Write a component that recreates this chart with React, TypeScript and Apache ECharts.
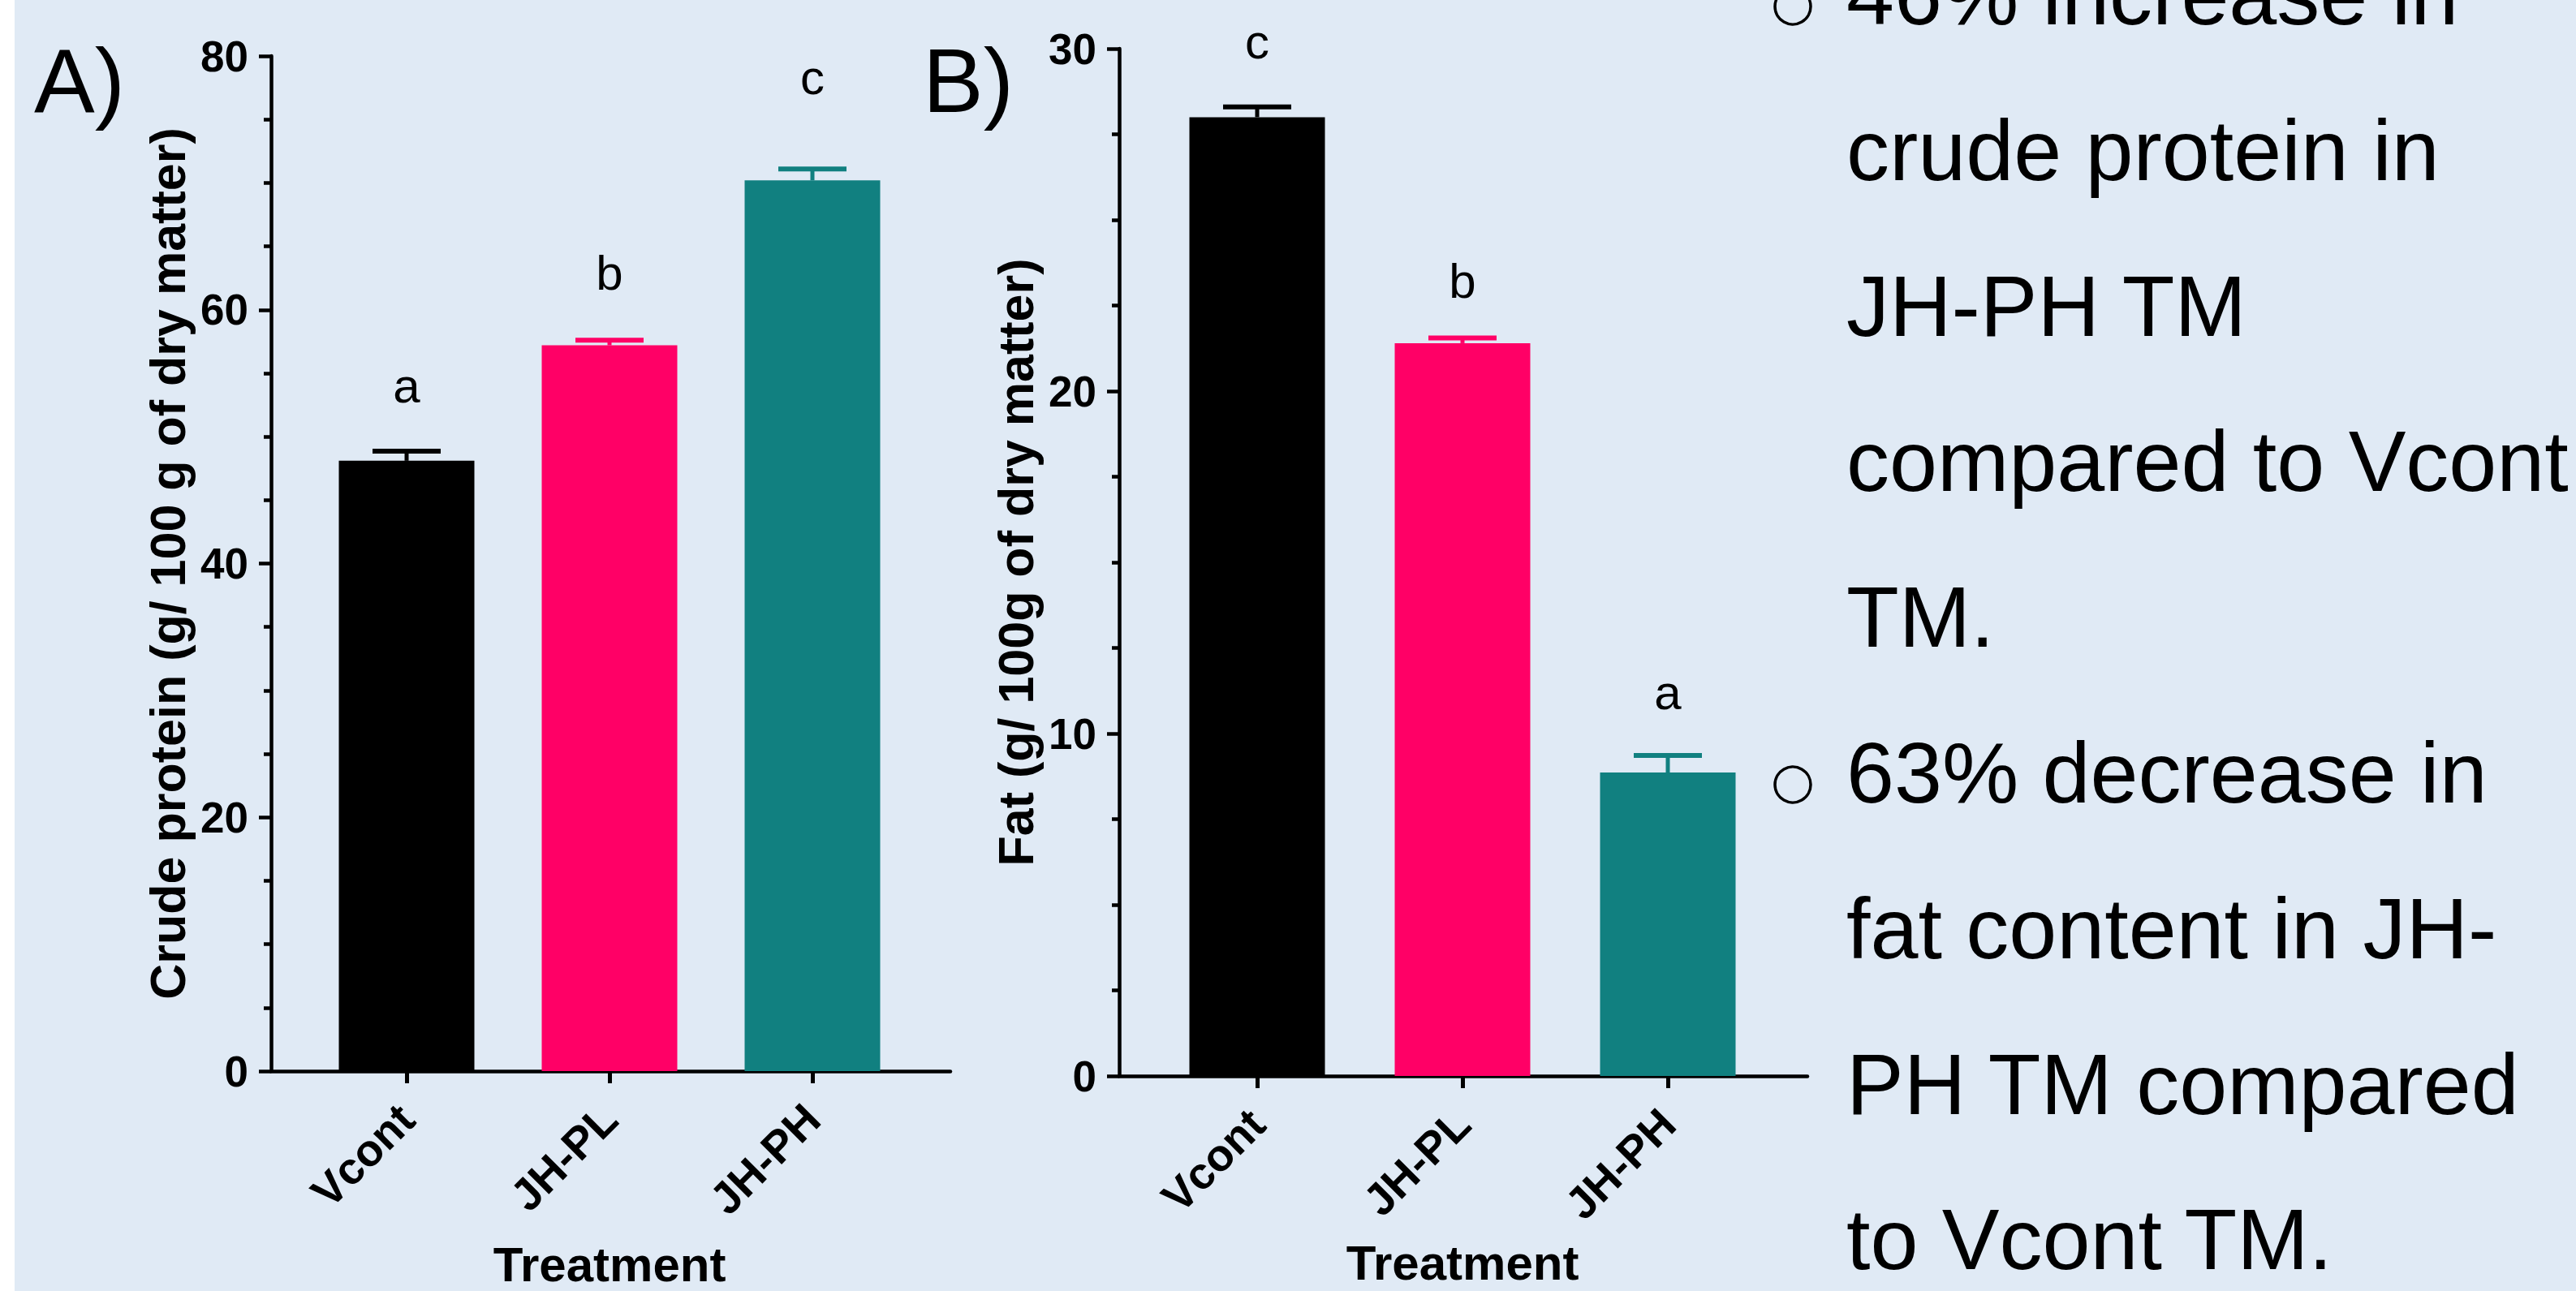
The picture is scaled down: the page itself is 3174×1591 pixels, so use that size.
import React, { useEffect, useRef } from 'react';
import * as echarts from 'echarts';

const categories = ['Vcont', 'JH-PL', 'JH-PH'];
const barColors = ['#000000', '#FF0066', '#118080'];

const proteinMeans = [48.1, 57.2, 70.2];
const proteinErrors = [0.75, 0.4, 0.9];
const proteinLetters = ['a', 'b', 'c'];
const proteinLetterY = [54.0, 62.9, 78.3];
const proteinAxis = { min: 0, max: 80, interval: 20 };

const fatMeans = [28.0, 21.4, 8.86];
const fatErrors = [0.3, 0.15, 0.5];
const fatLetters = ['c', 'b', 'a'];
const fatLetterY = [30.2, 23.2, 11.2];
const fatAxis = { min: 0, max: 30, interval: 10 };

const noteLines = [
  '46% increase in',
  'crude protein in',
  'JH-PH TM',
  'compared to Vcont',
  'TM.',
  '63% decrease in',
  'fat content in JH-',
  'PH TM compared',
  'to Vcont TM.',
];
const bulletLineIndexes = [0, 5];

const FONT = '"Liberation Sans", Arial, Helvetica, sans-serif';

function catAxis(gridIndex: number, nameGap: number) {
  return {
    type: 'category',
    gridIndex,
    data: categories,
    axisLine: { show: false },
    axisTick: { show: true, alignWithLabel: true, length: 15, lineStyle: { color: '#000', width: 5 } },
    axisLabel: {
      interval: 0,
      rotate: 45,
      margin: 50,
      fontSize: 55,
      fontWeight: 'bold',
      color: '#000',
      fontFamily: FONT,
    },
    name: 'Treatment',
    nameLocation: 'middle',
    nameGap,
    nameTextStyle: { fontSize: 60, fontWeight: 'bold', color: '#000', fontFamily: FONT },
    splitLine: { show: false },
  };
}

function lineAxis(gridIndex: number) {
  return {
    type: 'value',
    gridIndex,
    min: 0,
    max: 1,
    axisLine: { show: true, onZero: false, lineStyle: { color: '#000', width: 4.5 } },
    axisTick: { show: false },
    axisLabel: { show: false },
    splitLine: { show: false },
  };
}

function valAxis(gridIndex: number, ax: { min: number; max: number; interval: number }, offset: number, name: string) {
  return {
    type: 'value',
    gridIndex,
    min: ax.min,
    max: ax.max,
    interval: ax.interval,
    offset,
    axisLine: { show: true, lineStyle: { color: '#000', width: 4.5 } },
    axisTick: { show: true, length: 15, lineStyle: { color: '#000', width: 4.5 } },
    minorTick: { show: true, splitNumber: 4, length: 9, lineStyle: { color: '#000', width: 4.5 } },
    axisLabel: { fontSize: 53, fontWeight: 'bold', color: '#000', margin: 28, fontFamily: FONT },
    splitLine: { show: false },
    minorSplitLine: { show: false },
    name,
    nameLocation: 'middle',
    nameGap: 97,
    nameTextStyle: { fontSize: 61, fontWeight: 'bold', color: '#000', fontFamily: FONT },
  };
}

function hiddenY(gridIndex: number) {
  return { type: 'value', gridIndex, min: 0, max: 1, show: false };
}

function barSeries(xi: number, yi: number, means: number[]) {
  return {
    type: 'bar',
    xAxisIndex: xi,
    yAxisIndex: yi,
    barWidth: 167,
    data: means.map((v, i) => ({ value: v, itemStyle: { color: barColors[i] } })),
    silent: true,
  };
}

function errorSeries(xi: number, yi: number, means: number[], errs: number[]) {
  return {
    type: 'custom',
    xAxisIndex: xi,
    yAxisIndex: yi,
    z: 3,
    silent: true,
    data: means.map((m, i) => [i, m, errs[i]]),
    encode: { x: 0, y: 1 },
    renderItem: (params: any, api: any) => {
      const i = api.value(0);
      const m = api.value(1);
      const e = api.value(2);
      const base = api.coord([i, m]);
      const top = api.coord([i, m + e]);
      const color = barColors[params.dataIndex];
      return {
        type: 'group',
        children: [
          {
            type: 'line',
            shape: { x1: base[0], y1: base[1], x2: top[0], y2: top[1] },
            style: { stroke: color, lineWidth: 5 },
          },
          {
            type: 'line',
            shape: { x1: top[0] - 42, y1: top[1], x2: top[0] + 42, y2: top[1] },
            style: { stroke: color, lineWidth: 6 },
          },
        ],
      };
    },
  };
}

function letterSeries(xi: number, yi: number, ys: number[], letters: string[]) {
  return {
    type: 'scatter',
    xAxisIndex: xi,
    yAxisIndex: yi,
    clip: false,
    silent: true,
    symbolSize: 1,
    itemStyle: { color: 'rgba(0,0,0,0)' },
    z: 4,
    data: ys.map((y, i) => [i, y]),
    label: {
      show: true,
      position: 'inside',
      formatter: (p: any) => letters[p.dataIndex],
      fontSize: 60,
      color: '#000000',
      opacity: 1,
      textBorderWidth: 0,
      fontFamily: FONT,
    },
  };
}

export default function App() {
  const ref = useRef<HTMLDivElement>(null);

  useEffect(() => {
    if (!ref.current) return;
    const chart = echarts.init(ref.current, null, { renderer: 'svg' });

    const graphics: any[] = [
      {
        type: 'text',
        x: 42,
        y: 99,
        style: { text: 'A)', fontSize: 112, fontFamily: FONT, fill: '#000', textVerticalAlign: 'middle', verticalAlign: 'middle' },
      },
      {
        type: 'text',
        x: 1137,
        y: 99,
        style: { text: 'B)', fontSize: 112, fontFamily: FONT, fill: '#000', textVerticalAlign: 'middle', verticalAlign: 'middle' },
      },
    ];
    noteLines.forEach((line, i) => {
      const baseline = 30 + i * 191.8;
      graphics.push({
        type: 'text',
        x: 2275,
        y: baseline - 37,
        style: { text: line, fontSize: 106, fontFamily: FONT, fill: '#000', textVerticalAlign: 'middle', verticalAlign: 'middle' },
      });
    });
    bulletLineIndexes.forEach((i) => {
      const baseline = 30 + i * 191.8;
      graphics.push({
        type: 'circle',
        shape: { cx: 2209, cy: baseline - 22, r: 22 },
        style: { fill: 'none', stroke: '#000', lineWidth: 3.5 },
      });
    });

    const gridBase = { containLabel: false, outerBoundsMode: 'none' };

    chart.setOption({
      animation: false,
      backgroundColor: 'transparent',
      textStyle: { fontFamily: FONT },
      grid: [
        { ...gridBase, left: 376, top: 69, width: 750, height: 1251 },
        { ...gridBase, left: 334, top: 69, width: 837, height: 1251 },
        { ...gridBase, left: 1422.5, top: 60, width: 759, height: 1266 },
        { ...gridBase, left: 1379, top: 60, width: 848, height: 1266 },
      ],
      xAxis: [catAxis(0, 208), lineAxis(1), catAxis(2, 200), lineAxis(3)],
      yAxis: [
        valAxis(0, proteinAxis, 42, 'Crude protein (g/ 100 g of dry matter)'),
        hiddenY(1),
        valAxis(2, fatAxis, 43.5, 'Fat (g/ 100g of dry matter)'),
        hiddenY(3),
      ],
      series: [
        barSeries(0, 0, proteinMeans),
        errorSeries(0, 0, proteinMeans, proteinErrors),
        letterSeries(0, 0, proteinLetterY, proteinLetters),
        barSeries(2, 2, fatMeans),
        errorSeries(2, 2, fatMeans, fatErrors),
        letterSeries(2, 2, fatLetterY, fatLetters),
      ],
      graphic: graphics,
    });

    return () => chart.dispose();
  }, []);

  return (
    <div
      style={{
        position: 'absolute',
        left: 0,
        top: 0,
        width: 3174,
        height: 1591,
        background: 'linear-gradient(to right, #ffffff 0px, #ffffff 18px, #E0EAF5 18px, #E0EAF5 100%)',
      }}
    >
      <div ref={ref} style={{ width: 3174, height: 1591 }} />
    </div>
  );
}
